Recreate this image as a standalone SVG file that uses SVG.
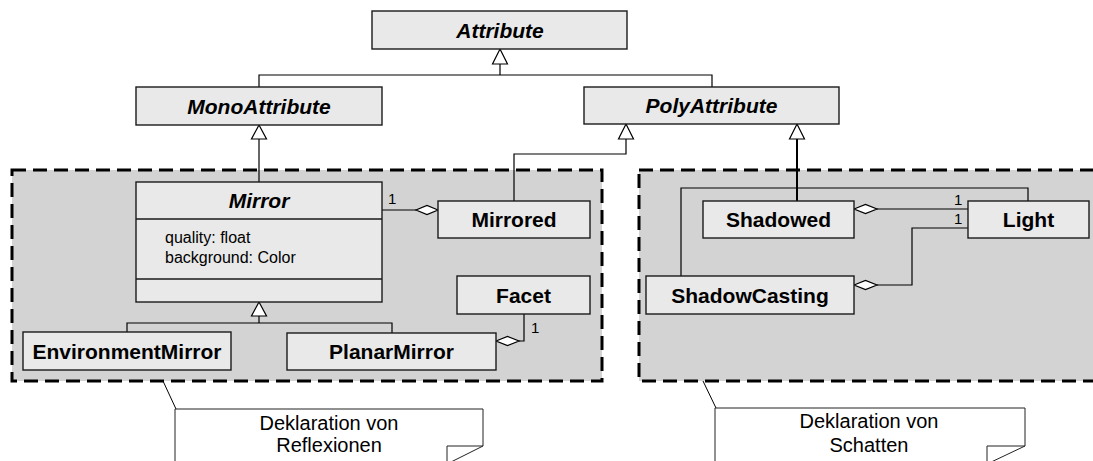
<svg xmlns="http://www.w3.org/2000/svg" width="1093" height="461" viewBox="0 0 1093 461">
<style>
.bg{fill:#ffffff}
.pkg{fill:#d3d3d3;stroke:#000;stroke-width:3;stroke-dasharray:14 7}
.box{fill:#e9e9e9;stroke:#1a1a1a;stroke-width:1.4}
.ln{fill:none;stroke:#000;stroke-width:1.2}
.tri{fill:#fff;stroke:#000;stroke-width:1.2}
.dia{fill:#fff;stroke:#000;stroke-width:1.2}
.note{fill:#fff;stroke:#222;stroke-width:1}
.t{font-family:"Liberation Sans",Arial,sans-serif;font-size:21px;font-weight:bold;fill:#000;text-anchor:middle}
.ti{font-style:italic}
.a{font-family:"Liberation Sans",Arial,sans-serif;font-size:16px;fill:#000}
.m{font-family:"Liberation Sans",Arial,sans-serif;font-size:15px;fill:#000}
.n{font-family:"Liberation Sans",Arial,sans-serif;font-size:20px;fill:#000;text-anchor:middle}
</style>
<rect class="bg" x="0" y="0" width="1093" height="461"/>
<g id="pkg-reflexionen"><rect class="pkg" x="12" y="170" width="590" height="211"/></g>
<g id="pkg-schatten"><rect class="pkg" x="639" y="170" width="470" height="211"/></g>

<g id="connectors">
  <!-- Attribute generalization -->
  <path class="ln" d="M500,64 V75 M259,87 V75 H712 V87"/>
  <polygon class="tri" points="500,49 507.5,64 492.5,64"/>
  <!-- MonoAttribute <- Mirror -->
  <path class="ln" d="M259,139 V182"/>
  <polygon class="tri" points="259,125 266.5,139 251.5,139"/>
  <!-- PolyAttribute <- Mirrored -->
  <path class="ln" d="M626,139 V154 H514 V201"/>
  <polygon class="tri" points="626,124 633.5,139 618.5,139"/>
  <!-- PolyAttribute <- Shadowed, ShadowCasting, Light -->
  <path class="ln" d="M797,139 V201" style="stroke-width:2"/>
  <path class="ln" d="M681,276 V188 H1028 V201"/>
  <polygon class="tri" points="797,124 804.5,139 789.5,139"/>
  <!-- Mirror <- EnvironmentMirror, PlanarMirror -->
  <path class="ln" d="M259,316 V323 M127,332 V323 H392 V333"/>
  <polygon class="tri" points="259,302 266.5,316 251.5,316"/>
  <!-- Mirror - Mirrored aggregation -->
  <path class="ln" d="M382,210 H416"/>
  <polygon class="dia" points="438,210 427,205.5 416,210 427,214.5"/>
  <text class="m" x="388" y="204">1</text>
  <!-- Facet - PlanarMirror aggregation -->
  <path class="ln" d="M519,341 H524 V314"/>
  <polygon class="dia" points="496,341 507.5,336.5 519,341 507.5,345.5"/>
  <text class="m" x="531" y="333">1</text>
  <!-- Light - Shadowed aggregation -->
  <path class="ln" d="M877,209 H968"/>
  <polygon class="dia" points="854,209 865.5,204.5 877,209 865.5,213.5"/>
  <text class="m" x="954" y="205">1</text>
  <!-- Light - ShadowCasting aggregation -->
  <path class="ln" d="M968,228 H912 V285 H877"/>
  <polygon class="dia" points="854,285 865.5,280.5 877,285 865.5,289.5"/>
  <text class="m" x="954" y="224">1</text>
  <!-- note anchors -->
  <path class="ln" d="M163,381 L176,409" style="stroke-width:1"/>
  <path class="ln" d="M703,381 L716,408" style="stroke-width:1"/>
</g>

<g id="Attribute"><rect class="box" x="372" y="11" width="255" height="38"/><text class="t ti" x="500" y="37.5">Attribute</text></g>
<g id="MonoAttribute"><rect class="box" x="136" y="87" width="246" height="38"/><text class="t ti" x="259" y="113.5">MonoAttribute</text></g>
<g id="PolyAttribute"><rect class="box" x="584" y="87" width="255" height="37"/><text class="t ti" x="711.5" y="113">PolyAttribute</text></g>
<g id="Mirror">
  <rect class="box" x="136" y="182" width="246" height="120"/>
  <path class="ln" d="M136,219 H382 M136,279 H382" style="stroke-width:1.4;stroke:#1a1a1a"/>
  <text class="t ti" x="259" y="208">Mirror</text>
  <text class="a" x="165" y="243">quality: float</text>
  <text class="a" x="165" y="263">background: Color</text>
</g>
<g id="Mirrored"><rect class="box" x="438" y="201" width="152" height="37"/><text class="t" x="514" y="227">Mirrored</text></g>
<g id="Facet"><rect class="box" x="457" y="276" width="133" height="38"/><text class="t" x="523.5" y="302.5">Facet</text></g>
<g id="EnvironmentMirror"><rect class="box" x="23" y="332" width="208" height="38"/><text class="t" x="127" y="358.5">EnvironmentMirror</text></g>
<g id="PlanarMirror"><rect class="box" x="287" y="333" width="209" height="37"/><text class="t" x="391.5" y="359">PlanarMirror</text></g>
<g id="Shadowed"><rect class="box" x="703" y="201" width="151" height="37"/><text class="t" x="778.5" y="227">Shadowed</text></g>
<g id="Light"><rect class="box" x="968" y="201" width="121" height="37"/><text class="t" x="1028.5" y="227">Light</text></g>
<g id="ShadowCasting"><rect class="box" x="646" y="276" width="208" height="38"/><text class="t" x="750" y="302.5">ShadowCasting</text></g>

<g id="note-reflexionen">
  <path class="note" d="M175,409 H483 V446 L447,464 H175 Z"/>
  <path class="note" d="M447,464 V446 H483" style="fill:none"/>
  <text class="n" x="329" y="430">Deklaration von</text>
  <text class="n" x="329" y="452">Reflexionen</text>
</g>
<g id="note-schatten">
  <path class="note" d="M715,408 H1025 V446 L987,464 H715 Z"/>
  <path class="note" d="M987,464 V446 H1025" style="fill:none"/>
  <text class="n" x="869" y="428">Deklaration von</text>
  <text class="n" x="869" y="452">Schatten</text>
</g>
</svg>
